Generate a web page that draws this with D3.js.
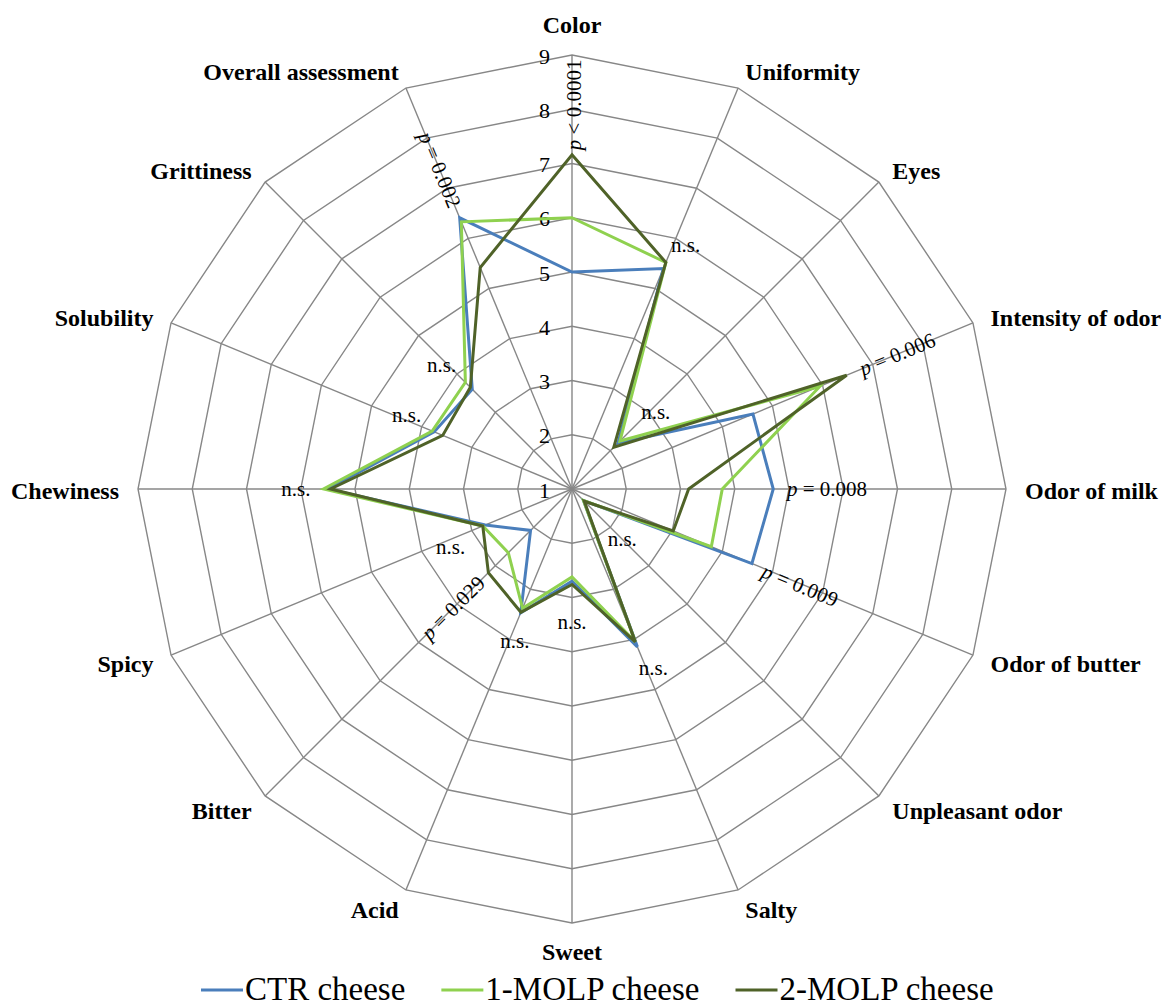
<!DOCTYPE html>
<html>
<head>
<meta charset="utf-8">
<script src="https://cdn.jsdelivr.net/npm/d3@7"></script>
<style>
  body { margin: 0; background: #fff; }
  svg { display: block; font-family: "Liberation Serif", "Times New Roman", serif; }
</style>
</head>
<body>
<svg id="chart" width="1163" height="1008"></svg>
<script>
// Sensory attributes, clockwise from the top
const attributes = [
  "Color", "Uniformity", "Eyes", "Intensity of odor", "Odor of milk",
  "Odor of butter", "Unpleasant odor", "Salty", "Sweet", "Acid",
  "Bitter", "Spicy", "Chewiness", "Solubility", "Grittiness",
  "Overall assessment"
];

// Mean panel scores (1–9 scale) per attribute
const ctrCheese   = [5.00, 5.40, 2.20, 4.61, 4.71, 4.59, 1.30, 4.15, 2.70, 3.47, 2.08, 2.73, 5.50, 3.75, 3.60, 6.41];
const molp1Cheese = [6.00, 5.52, 2.25, 5.95, 3.77, 3.78, 1.30, 4.05, 2.62, 3.38, 2.66, 2.78, 5.58, 3.79, 3.78, 6.33];
const molp2Cheese = [7.16, 5.52, 2.09, 6.48, 3.15, 3.02, 1.32, 4.05, 2.76, 3.46, 3.18, 2.78, 5.45, 3.58, 3.65, 5.42];

const seriesNames = ["CTR cheese", "1-MOLP cheese", "2-MOLP cheese"];
const seriesValues = [ctrCheese, molp1Cheese, molp2Cheese];
const seriesColors = ["#4a7ebb", "#8fd14f", "#4f6228"];

const scaleTicks = [1, 2, 3, 4, 5, 6, 7, 8, 9];

// Significance of the treatment effect per attribute; "at" is the score level where the note sits
const sigNotes = [
  { attr: "Color",              p: "< 0.0001", at: 8.08, radial: true },
  { attr: "Uniformity",         p: null,       at: 5.80 },
  { attr: "Eyes",               p: null,       at: 3.00 },
  { attr: "Intensity of odor",  p: "= 0.006",  at: 7.49, radial: true },
  { attr: "Odor of milk",       p: "= 0.008",  at: 5.70 },
  { attr: "Odor of butter",     p: "= 0.009",  at: 5.55, radial: true },
  { attr: "Unpleasant odor",    p: null,       at: 2.31 },
  { attr: "Salty",              p: null,       at: 4.58 },
  { attr: "Sweet",              p: null,       at: 3.45 },
  { attr: "Acid",               p: null,       at: 4.04 },
  { attr: "Bitter",             p: "= 0.029",  at: 4.10, radial: true },
  { attr: "Spicy",              p: null,       at: 3.78 },
  { attr: "Chewiness",          p: null,       at: 6.09 },
  { attr: "Solubility",         p: null,       at: 4.30 },
  { attr: "Grittiness",         p: null,       at: 4.24 },
  { attr: "Overall assessment", p: "= 0.002",  at: 7.37, radial: true }
];

// Small nudges for the horizontal "n.s." notes so they clear the lines
const noteNudge = {
  "Uniformity": [14, -3], "Eyes": [7, 0], "Salty": [7, 0], "Acid": [6, 0],
  "Spicy": [18, 0], "Solubility": [0, -5], "Grittiness": [-6, 0],
  "Color": [2, 0], "Odor of butter": [0, 2]
};

const svg = d3.select("#chart");
const cx = 572, cy = 489, R = 434;
const n = attributes.length;

const r = d3.scaleLinear().domain([1, 9]).range([0, R]);
const angle = d3.scaleLinear().domain([0, n]).range([0, 2 * Math.PI]);

function pt(i, v) {
  const a = angle(i), d = r(v);
  return [cx + d * Math.sin(a), cy - d * Math.cos(a)];
}

const g = svg.append("g");

// Ring grid
const gridColor = "#878787";
scaleTicks.slice(1).forEach(t => {
  g.append("path")
    .attr("d", d3.line()(d3.range(n).map(i => pt(i, t))) + "Z")
    .attr("fill", "none")
    .attr("stroke", gridColor)
    .attr("stroke-width", 1.4);
});

// Spokes
d3.range(n).forEach(i => {
  const [x, y] = pt(i, 9);
  g.append("line")
    .attr("x1", cx).attr("y1", cy).attr("x2", x).attr("y2", y)
    .attr("stroke", gridColor).attr("stroke-width", 1.4);
});

// Scale labels along the top spoke
g.selectAll(".tick").data(scaleTicks).enter().append("text")
  .attr("x", cx - 22)
  .attr("y", d => cy - r(d) + 1)
  .attr("text-anchor", "end")
  .attr("dominant-baseline", "central")
  .attr("font-size", 22)
  .attr("fill", "#000")
  .text(d => d);

// Series polygons
const radarLine = d3.line().curve(d3.curveLinearClosed);
seriesValues.forEach((vals, k) => {
  g.append("path")
    .attr("d", radarLine(vals.map((v, i) => pt(i, v))))
    .attr("fill", "none")
    .attr("stroke", seriesColors[k])
    .attr("stroke-width", 3)
    .attr("stroke-linejoin", "miter");
});

// Attribute labels outside the outer ring
attributes.forEach((name, i) => {
  const a = angle(i);
  const s = Math.sin(a), c = Math.cos(a);
  const d = R + 19;
  let x = cx + d * s, y = cy - d * c;
  let anchor = "middle";
  if (s > 0.01) anchor = "start";
  else if (s < -0.01) anchor = "end";
  if (Math.abs(s) < 0.01) y += c > 0 ? -11 : 10;
  else y += 2;
  g.append("text")
    .attr("x", x).attr("y", y)
    .attr("text-anchor", anchor)
    .attr("dominant-baseline", "central")
    .attr("font-size", 24)
    .attr("font-weight", "bold")
    .attr("fill", "#000")
    .text(name);
});

// Significance notes
sigNotes.forEach(note => {
  const i = attributes.indexOf(note.attr);
  const [px, py] = pt(i, note.at);
  const nudge = noteNudge[note.attr] || [0, 0];
  let rot = 0;
  if (note.radial) {
    rot = angle(i) * 180 / Math.PI - 90;
    if (rot > 90) rot -= 180;
    if (rot < -90) rot += 180;
  }
  const t = g.append("text")
    .attr("transform", `translate(${px + nudge[0]},${py + nudge[1]}) rotate(${rot})`)
    .attr("text-anchor", "middle")
    .attr("dominant-baseline", "central")
    .attr("font-size", 21)
    .attr("fill", "#000");
  if (note.p) {
    t.append("tspan").attr("font-style", "italic").text("p");
    t.append("tspan").text(" " + note.p);
  } else {
    t.text("n.s.");
  }
});

// Legend
const legend = svg.append("g");
let lx = 201;
const ly = 990;
seriesNames.forEach((name, k) => {
  legend.append("line")
    .attr("x1", lx).attr("x2", lx + 42)
    .attr("y1", ly).attr("y2", ly)
    .attr("stroke", seriesColors[k]).attr("stroke-width", 3);
  const txt = legend.append("text")
    .attr("x", lx + 44).attr("y", ly + 10)
    .attr("font-size", 33)
    .attr("fill", "#000")
    .text(name);
  lx += 44 + txt.node().getComputedTextLength() + 36;
});
</script>
</body>
</html>
